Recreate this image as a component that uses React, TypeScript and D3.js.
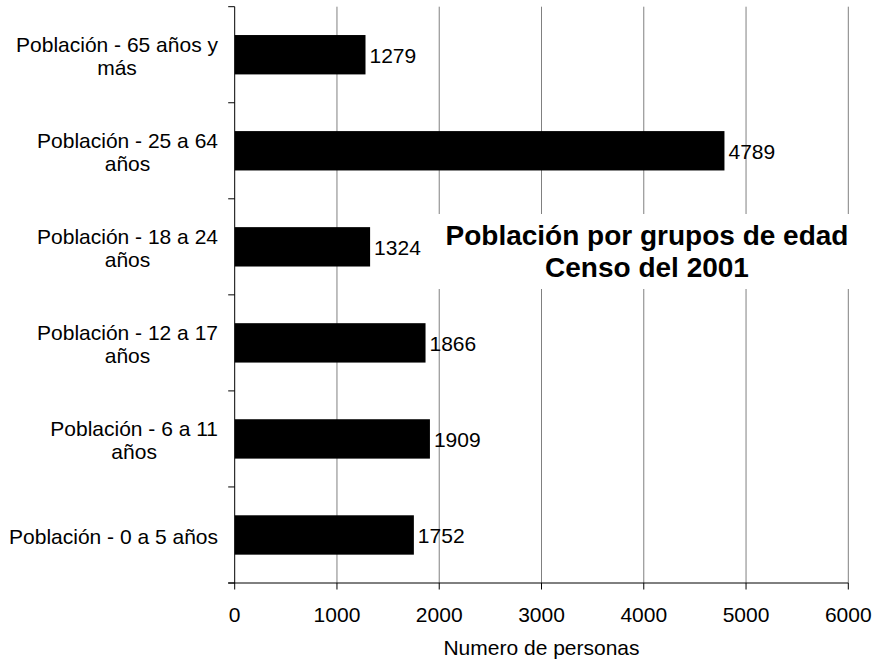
import React, { useEffect, useRef } from "react";
import * as d3 from "d3";

const categories = [
  "Población - 65 años y más",
  "Población - 25 a 64 años",
  "Población - 18 a 24 años",
  "Población - 12 a 17 años",
  "Población - 6 a 11 años",
  "Población - 0 a 5 años",
];
const categoryLines = [
  ["Población - 65 años y", "más"],
  ["Población - 25 a 64", "años"],
  ["Población - 18 a 24", "años"],
  ["Población - 12 a 17", "años"],
  ["Población - 6 a 11", "años"],
  ["Población - 0 a 5 años"],
];
const values = [1279, 4789, 1324, 1866, 1909, 1752];
const xTicks = [0, 1000, 2000, 3000, 4000, 5000, 6000];
const titleLines = ["Población por grupos de edad", "Censo del 2001"];
const xAxisTitle = "Numero de personas";

const W = 876;
const H = 663;
const FONT = "'Liberation Sans', Arial, Helvetica, sans-serif";

export default function App() {
  const ref = useRef<SVGSVGElement>(null);

  useEffect(() => {
    const svg = d3.select(ref.current);
    svg.selectAll("*").remove();

    const left = 234.7;
    const right = 848.3;
    const top = 6.7;
    const bottom = 583;

    const x = d3.scaleLinear().domain([0, 6000]).range([left, right]);
    const y = d3.scaleBand<string>().domain(categories).range([top, bottom]).padding(0);
    const barH = y.step() * 0.41;

    // gridlines
    svg
      .append("g")
      .selectAll("line")
      .data(xTicks.slice(1))
      .join("line")
      .attr("x1", (d) => x(d))
      .attr("x2", (d) => x(d))
      .attr("y1", top)
      .attr("y2", bottom)
      .attr("stroke", "#808080")
      .attr("stroke-width", 1);

    // bars
    svg
      .append("g")
      .selectAll("rect")
      .data(categories)
      .join("rect")
      .attr("x", x(0))
      .attr("y", (d) => (y(d) as number) + y.step() / 2 - barH / 2)
      .attr("width", (d, i) => x(values[i]) - x(0))
      .attr("height", barH)
      .attr("fill", "#000");

    // value labels
    svg
      .append("g")
      .selectAll("text")
      .data(categories)
      .join("text")
      .attr("x", (d, i) => x(values[i]) + 4)
      .attr("y", (d) => (y(d) as number) + y.step() / 2 + 0.5)
      .attr("dy", "0.36em")
      .attr("font-family", FONT)
      .attr("font-size", 21)
      .attr("fill", "#000")
      .text((d, i) => String(values[i]));

    // y axis
    svg
      .append("line")
      .attr("x1", left)
      .attr("x2", left)
      .attr("y1", top)
      .attr("y2", bottom)
      .attr("stroke", "#000");
    const boundaries = categories.map((c) => y(c) as number).concat([bottom]);
    svg
      .append("g")
      .selectAll("line")
      .data(boundaries)
      .join("line")
      .attr("x1", left - 6.5)
      .attr("x2", left)
      .attr("y1", (d) => d)
      .attr("y2", (d) => d)
      .attr("stroke", "#000");

    // x axis
    svg
      .append("line")
      .attr("x1", left - 6.5)
      .attr("x2", right)
      .attr("y1", bottom)
      .attr("y2", bottom)
      .attr("stroke", "#000");
    svg
      .append("g")
      .selectAll("line")
      .data(xTicks)
      .join("line")
      .attr("x1", (d) => x(d))
      .attr("x2", (d) => x(d))
      .attr("y1", bottom)
      .attr("y2", bottom + 6.5)
      .attr("stroke", "#000");
    svg
      .append("g")
      .selectAll("text")
      .data(xTicks)
      .join("text")
      .attr("x", (d) => x(d))
      .attr("y", 621.5)
      .attr("text-anchor", "middle")
      .attr("font-family", FONT)
      .attr("font-size", 21)
      .text((d) => String(d));

    svg
      .append("text")
      .attr("x", (left + right) / 2)
      .attr("y", 655)
      .attr("text-anchor", "middle")
      .attr("font-family", FONT)
      .attr("font-size", 21)
      .text(xAxisTitle);

    // category labels: block right-aligned, lines centered within block
    const labelRight = 218;
    const lineH = 23;
    categories.forEach((c, i) => {
      const lines = categoryLines[i];
      const g = svg.append("g");
      const texts = lines.map((ln, j) =>
        g
          .append("text")
          .attr("font-family", FONT)
          .attr("font-size", 21)
          .attr("text-anchor", "middle")
          .attr("y", (y(c) as number) + y.step() / 2 + 1 + (j - (lines.length - 1) / 2) * lineH)
          .attr("dy", "0.36em")
          .text(ln)
      );
      const maxW = d3.max(texts, (t) => (t.node() as SVGTextElement).getComputedTextLength()) || 0;
      texts.forEach((t) => t.attr("x", labelRight - maxW / 2));
    });

    // title with white background
    const cx = 647;
    svg
      .append("rect")
      .attr("x", 437)
      .attr("y", 214)
      .attr("width", 415)
      .attr("height", 75)
      .attr("fill", "#fff");
    titleLines.forEach((t, j) => {
      svg
        .append("text")
        .attr("x", cx)
        .attr("y", 245 + j * 32)
        .attr("text-anchor", "middle")
        .attr("font-family", FONT)
        .attr("font-size", 28)
        .attr("font-weight", "bold")
        .text(t);
    });
  }, []);

  return (
    <svg
      ref={ref}
      width={W}
      height={H}
      style={{ position: "absolute", left: 0, top: 0, background: "#fff" }}
    />
  );
}
